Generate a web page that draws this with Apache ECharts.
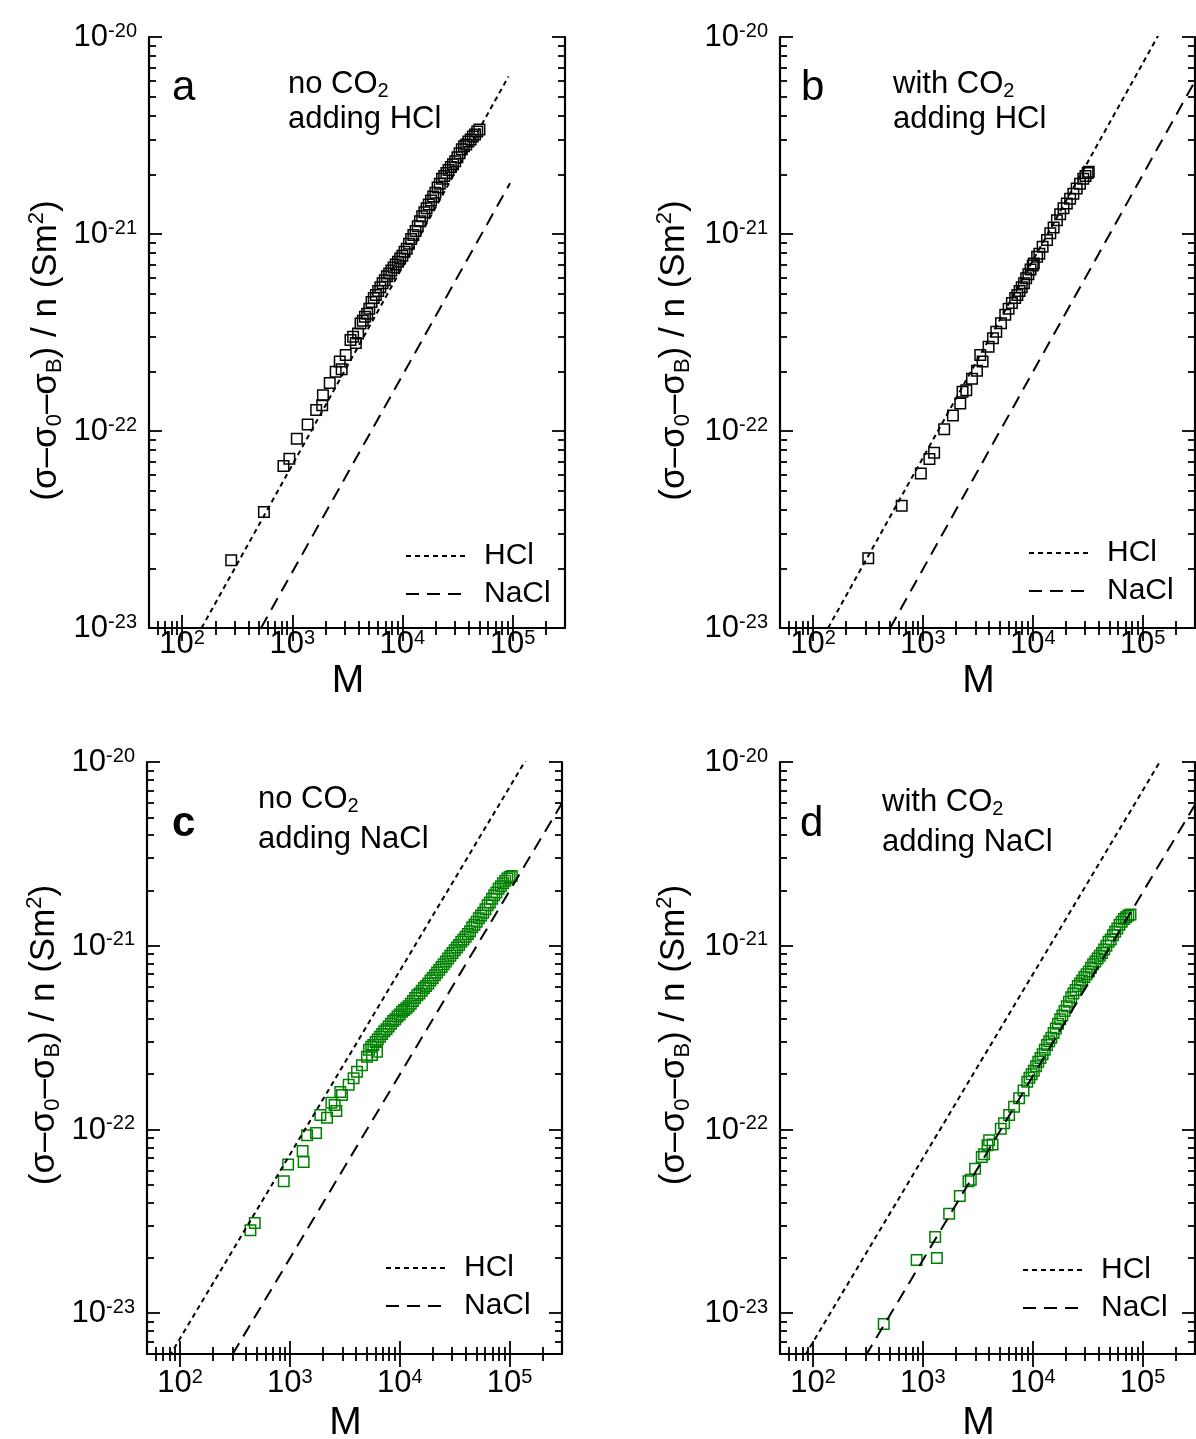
<!DOCTYPE html>
<html>
<head>
<meta charset="utf-8">
<script src="https://cdn.jsdelivr.net/npm/echarts@6/dist/echarts.min.js"></script>
<style>
  html, body { margin: 0; padding: 0; background: #ffffff; }
  #chart { width: 1196px; height: 1439px; }
</style>
</head>
<body>
<div id="chart"></div>
<script>
// Specific conductivity increment per particle vs. molar mass M, four titration runs.

// ---- tick values ----
const xMajorTicks = [100, 1000, 10000, 100000];
const xMinorTicks = [60, 70, 80, 90, 200, 300, 400, 500, 600, 700, 800, 900,
  2000, 3000, 4000, 5000, 6000, 7000, 8000, 9000,
  20000, 30000, 40000, 50000, 60000, 70000, 80000, 90000, 200000];
const yMajorTicks = [1e-23, 1e-22, 1e-21, 1e-20];
const yMinorTicks = [7e-24, 8e-24, 9e-24,
  2e-23, 3e-23, 4e-23, 5e-23, 6e-23, 7e-23, 8e-23, 9e-23,
  2e-22, 3e-22, 4e-22, 5e-22, 6e-22, 7e-22, 8e-22, 9e-22,
  2e-21, 3e-21, 4e-21, 5e-21, 6e-21, 7e-21, 8e-21, 9e-21];

// ---- measured points [M, (σ-σ0-σB)/n in S m^2] ----
const noCO2HCl = [
  [279, 2.21e-23], [553, 3.88e-23], [832, 6.64e-23], [942, 7.23e-23], [1100, 9.14e-23],
  [1380, 1.08e-22], [1650, 1.28e-22], [1870, 1.35e-22], [1900, 1.52e-22], [2190, 1.75e-22],
  [2480, 2.00e-22], [2810, 2.06e-22], [2700, 2.25e-22], [3060, 2.43e-22], [3380, 2.90e-22],
  [3780, 2.80e-22], [3570, 3.01e-22], [3960, 3.13e-22],
  [4170, 3.51e-22], [4370, 3.63e-22], [4570, 3.80e-22], [4790, 3.94e-22], [5010, 4.17e-22],
  [5250, 4.52e-22], [5500, 4.73e-22], [5750, 4.90e-22], [6030, 5.13e-22], [6310, 5.37e-22],
  [6610, 5.62e-22], [6920, 5.82e-22], [7240, 6.10e-22], [7590, 6.31e-22], [7940, 6.53e-22],
  [8320, 6.76e-22], [8710, 7.00e-22], [9120, 7.24e-22], [9550, 7.50e-22], [10000, 7.76e-22],
  [10470, 8.13e-22], [10960, 8.41e-22], [11480, 8.91e-22], [12020, 9.44e-22], [12590, 9.89e-22],
  [13180, 1.035e-21], [13800, 1.096e-21], [14450, 1.16e-21], [15140, 1.23e-21], [15850, 1.29e-21],
  [16600, 1.35e-21], [17380, 1.41e-21], [18200, 1.48e-21], [19050, 1.55e-21], [19950, 1.62e-21],
  [20890, 1.72e-21], [21880, 1.80e-21], [22910, 1.91e-21], [23990, 1.97e-21], [25120, 2.04e-21],
  [26300, 2.11e-21], [27540, 2.19e-21], [28840, 2.26e-21], [30200, 2.34e-21], [31620, 2.45e-21],
  [33110, 2.57e-21], [34670, 2.69e-21], [36310, 2.79e-21], [38020, 2.85e-21], [39810, 2.95e-21],
  [41690, 3.02e-21], [43650, 3.13e-21], [45710, 3.20e-21], [47860, 3.31e-21], [50120, 3.39e-21]
];
const withCO2HCl = [
  [318, 2.26e-23], [641, 4.18e-23], [957, 6.08e-23], [1146, 7.21e-23], [1265, 7.76e-23],
  [1562, 1.02e-22], [1875, 1.20e-22], [2188, 1.38e-22], [2296, 1.58e-22], [2483, 1.61e-22],
  [2799, 1.84e-22], [3105, 2.02e-22], [3328, 2.43e-22], [3494, 2.25e-22], [3963, 2.68e-22],
  [4345, 2.96e-22], [4656, 3.19e-22], [5140, 3.52e-22],
  [5620, 3.89e-22], [6030, 4.17e-22], [6460, 4.47e-22], [6920, 4.73e-22], [7240, 4.90e-22],
  [7590, 5.13e-22], [7940, 5.37e-22], [8320, 5.62e-22], [8710, 5.96e-22], [9120, 6.24e-22],
  [9550, 6.61e-22], [10000, 6.92e-22], [10230, 7.08e-22], [10960, 7.67e-22], [11480, 7.94e-22],
  [12300, 8.61e-22], [13490, 9.33e-22], [14450, 1.01e-21], [15490, 1.08e-21], [16600, 1.175e-21],
  [17780, 1.26e-21], [19050, 1.35e-21], [20420, 1.43e-21], [21880, 1.51e-21], [23440, 1.60e-21],
  [25120, 1.70e-21], [26920, 1.80e-21], [28840, 1.91e-21], [30200, 1.97e-21], [31620, 2.04e-21],
  [32360, 2.07e-21]
];
const noCO2NaCl = [
  [437, 2.83e-23], [479, 3.10e-23], [879, 5.22e-23], [963, 6.44e-23], [1334, 6.65e-23],
  [1306, 7.64e-23], [1432, 9.31e-23], [1730, 9.58e-23], [1893, 1.20e-22], [2178, 1.16e-22],
  [2385, 1.40e-22], [2647, 1.26e-22], [2553, 1.36e-22], [2877, 1.60e-22], [2979, 1.54e-22],
  [3428, 1.75e-22], [3802, 1.90e-22], [4083, 2.06e-22], [4529, 2.24e-22], [5035, 2.49e-22],
  [5585, 2.54e-22], [6209, 2.65e-22],
  [5250, 2.72e-22], [5500, 2.82e-22], [5750, 2.88e-22], [6030, 2.99e-22], [6310, 3.09e-22],
  [6610, 3.20e-22], [6920, 3.31e-22], [7240, 3.43e-22], [7590, 3.51e-22], [7940, 3.63e-22],
  [8320, 3.76e-22], [8710, 3.89e-22], [9120, 3.98e-22], [9550, 4.12e-22], [10000, 4.22e-22],
  [10470, 4.37e-22], [10960, 4.47e-22], [11480, 4.57e-22], [12020, 4.68e-22], [12590, 4.84e-22],
  [13180, 5.01e-22], [13800, 5.19e-22], [14450, 5.37e-22], [15140, 5.50e-22], [15850, 5.69e-22],
  [16600, 5.89e-22], [17380, 6.03e-22], [18200, 6.24e-22], [19050, 6.46e-22], [19950, 6.68e-22],
  [20890, 6.92e-22], [21880, 7.16e-22], [22910, 7.41e-22], [23990, 7.67e-22], [25120, 7.94e-22],
  [26300, 8.22e-22], [27540, 8.51e-22], [28840, 8.81e-22], [30200, 9.12e-22], [31620, 9.44e-22],
  [33110, 9.77e-22], [34670, 1.01e-21], [36310, 1.05e-21], [38020, 1.08e-21], [39810, 1.12e-21],
  [41690, 1.16e-21], [43650, 1.20e-21], [45710, 1.26e-21], [47860, 1.30e-21], [50120, 1.35e-21],
  [52480, 1.41e-21], [54950, 1.46e-21], [57540, 1.51e-21], [60260, 1.58e-21], [63100, 1.66e-21],
  [66070, 1.72e-21], [69180, 1.80e-21], [72440, 1.88e-21], [75860, 1.95e-21], [79430, 2.04e-21],
  [83180, 2.11e-21], [87100, 2.19e-21], [91200, 2.26e-21], [95500, 2.32e-21], [100000, 2.37e-21],
  [104700, 2.40e-21]
];
const withCO2NaCl = [
  [440, 8.75e-24], [877, 1.95e-23], [1340, 2.00e-23], [1294, 2.60e-23], [1734, 3.48e-23],
  [2168, 4.35e-23], [2600, 5.22e-23], [2729, 5.33e-23], [2985, 6.12e-23], [3436, 7.09e-23],
  [3606, 7.33e-23], [4009, 8.74e-23], [4305, 8.28e-23], [3873, 8.20e-23], [5117, 1.01e-22],
  [5483, 1.08e-22], [6095, 1.20e-22], [6761, 1.33e-22], [7516, 1.48e-22], [8250, 1.63e-22],
  [8910, 1.82e-22], [9330, 1.91e-22], [9770, 2.00e-22], [10230, 2.09e-22], [10720, 2.21e-22],
  [11220, 2.34e-22], [11750, 2.45e-22], [12300, 2.57e-22], [12880, 2.72e-22], [13490, 2.88e-22],
  [14130, 3.02e-22], [14790, 3.16e-22], [15490, 3.35e-22], [16220, 3.55e-22], [16980, 3.76e-22],
  [17780, 3.98e-22], [18620, 4.17e-22], [19500, 4.42e-22], [20420, 4.68e-22], [21380, 4.95e-22],
  [22390, 5.25e-22], [23440, 5.50e-22], [24550, 5.75e-22], [25700, 6.03e-22], [26920, 6.24e-22],
  [28180, 6.46e-22], [29510, 6.76e-22], [30900, 7.00e-22], [32360, 7.24e-22], [33880, 7.59e-22],
  [35480, 7.94e-22], [37150, 8.22e-22], [38900, 8.51e-22], [40740, 8.81e-22], [42660, 9.12e-22],
  [44670, 9.55e-22], [46770, 1.00e-21], [48980, 1.05e-21], [51290, 1.08e-21], [53700, 1.14e-21],
  [56230, 1.19e-21], [58880, 1.24e-21], [61660, 1.30e-21], [64570, 1.35e-21], [67610, 1.40e-21],
  [70790, 1.43e-21], [74130, 1.46e-21], [77620, 1.48e-21]
];

// ---- reference lines (end points) ----
const hclLineA = [[150, 1.0e-23], [92000, 6.3e-21]];
const naclLineA = [[520, 1.0e-23], [95000, 1.81e-21]];
const hclLineB = [[137, 1.0e-23], [150000, 1.1e-20]];
const naclLineB = [[503, 1.0e-23], [300000, 5.97e-21]];
const hclLineC = [[80, 5.84e-24], [150000, 1.095e-20]];
const naclLineC = [[300, 5.97e-24], [300000, 5.97e-21]];
const hclLineD = [[85, 5.93e-24], [150000, 1.047e-20]];
const naclLineD = [[300, 5.85e-24], [300000, 5.85e-21]];

// ---- styling ----
const FONT = "'Liberation Sans', Arial, Helvetica, sans-serif";
const BLACK = '#000000';
const GREEN = '#008000';
const HCL_DASH = [5, 4];
const NACL_DASH = [13, 8];

const powRich = {
  b: { fontSize: 31, lineHeight: 32, fontFamily: FONT, color: BLACK, verticalAlign: 'bottom' },
  s: { fontSize: 20, lineHeight: 20, fontFamily: FONT, color: BLACK, verticalAlign: 'top' }
};
function powLabel(v) {
  const e = Math.round(Math.log10(v));
  return '{b|10}{s|' + e + '}';
}

const yTitle = '(σ–σ{sub|0}–σ{sub|B}) / n (Sm{sup|2})';
const yTitleStyle = {
  fontSize: 35, lineHeight: 40, fontFamily: FONT, color: BLACK,
  rich: {
    sub: { fontSize: 22, lineHeight: 18, fontFamily: FONT, color: BLACK, verticalAlign: 'bottom' },
    sup: { fontSize: 22, lineHeight: 18, fontFamily: FONT, color: BLACK, verticalAlign: 'top' }
  }
};

const panels = [
  { grid: { left: 149, top: 37, width: 416, height: 591 }, yMin: 1e-23, points: noCO2HCl, color: BLACK,
    hcl: hclLineA, nacl: naclLineA, xLabelMargin: 0, xNameGap: 34, yNameGap: 83, yNamePad: [0, 36, 0, 0],
    legend: { left: 405, top: 541 } },
  { grid: { left: 780, top: 37, width: 415, height: 591 }, yMin: 1e-23, points: withCO2HCl, color: BLACK,
    hcl: hclLineB, nacl: naclLineB, xLabelMargin: 0, xNameGap: 34, yNameGap: 86, yNamePad: [0, 36, 0, 0],
    legend: { left: 1028, top: 538 } },
  { grid: { left: 147, top: 762, width: 415, height: 592 }, yMin: 6e-24, points: noCO2NaCl, color: GREEN,
    hcl: hclLineC, nacl: naclLineC, xLabelMargin: 13, xNameGap: 50, yNameGap: 83, yNamePad: [0, 0, 0, 46],
    legend: { left: 385, top: 1253 } },
  { grid: { left: 780, top: 762, width: 415, height: 592 }, yMin: 6e-24, points: withCO2NaCl, color: GREEN,
    hcl: hclLineD, nacl: naclLineD, xLabelMargin: 13, xNameGap: 50, yNameGap: 86, yNamePad: [0, 0, 0, 46],
    legend: { left: 1022, top: 1255 } }
];

const X_MIN = 50, X_MAX = 300000, Y_MAX = 1e-20;

const grids = [], xAxes = [], yAxes = [], series = [], legends = [];

function baseAxis(gridIndex, min, max, position) {
  return {
    type: 'log', logBase: 10, gridIndex: gridIndex, min: min, max: max, position: position,
    splitLine: { show: false }, minorTick: { show: false }, minorSplitLine: { show: false },
    axisPointer: { show: false }
  };
}
function majorTick(vals) {
  return { show: true, inside: true, length: 13, customValues: vals, lineStyle: { color: BLACK, width: 1.8 } };
}
function minorTick(vals) {
  return { show: true, inside: true, length: 7, customValues: vals, lineStyle: { color: BLACK, width: 1.8 } };
}
const frameLine = { show: true, lineStyle: { color: BLACK, width: 2.2 } };

panels.forEach(function (p, g) {
  grids.push(Object.assign({ containLabel: false, outerBoundsMode: 'none' }, p.grid));

  // bottom: major ticks, labels, title
  xAxes.push(Object.assign(baseAxis(g, X_MIN, X_MAX, 'bottom'), {
    axisLine: frameLine, axisTick: majorTick(xMajorTicks),
    axisLabel: { show: true, customValues: xMajorTicks, formatter: powLabel, rich: powRich, margin: p.xLabelMargin },
    name: 'M', nameLocation: 'middle', nameGap: p.xNameGap, nameMoveOverlap: false,
    nameTextStyle: { fontSize: 39, fontFamily: FONT, color: BLACK, padding: [0, 18, 0, 0] }
  }));
  xAxes.push(Object.assign(baseAxis(g, X_MIN, X_MAX, 'bottom'), {
    axisLine: { show: false }, axisTick: minorTick(xMinorTicks), axisLabel: { show: false }
  }));
  // top mirror
  xAxes.push(Object.assign(baseAxis(g, X_MIN, X_MAX, 'top'), {
    axisLine: frameLine, axisTick: majorTick(xMajorTicks), axisLabel: { show: false }
  }));
  xAxes.push(Object.assign(baseAxis(g, X_MIN, X_MAX, 'top'), {
    axisLine: { show: false }, axisTick: minorTick(xMinorTicks), axisLabel: { show: false }
  }));

  const yMinor = yMinorTicks.filter(function (v) { return v > p.yMin; });
  // left: major ticks, labels, title
  yAxes.push(Object.assign(baseAxis(g, p.yMin, Y_MAX, 'left'), {
    axisLine: frameLine, axisTick: majorTick(yMajorTicks),
    axisLabel: { show: true, customValues: yMajorTicks, formatter: powLabel, rich: powRich, margin: 12 },
    name: yTitle, nameLocation: 'middle', nameGap: p.yNameGap, nameRotate: 90, nameMoveOverlap: false,
    nameTextStyle: Object.assign({ padding: p.yNamePad }, yTitleStyle)
  }));
  yAxes.push(Object.assign(baseAxis(g, p.yMin, Y_MAX, 'left'), {
    axisLine: { show: false }, axisTick: minorTick(yMinor), axisLabel: { show: false }
  }));
  // right mirror
  yAxes.push(Object.assign(baseAxis(g, p.yMin, Y_MAX, 'right'), {
    axisLine: frameLine, axisTick: majorTick(yMajorTicks), axisLabel: { show: false }
  }));
  yAxes.push(Object.assign(baseAxis(g, p.yMin, Y_MAX, 'right'), {
    axisLine: { show: false }, axisTick: minorTick(yMinor), axisLabel: { show: false }
  }));

  const ax = g * 4;
  series.push({
    type: 'scatter', xAxisIndex: ax, yAxisIndex: ax, data: p.points,
    symbol: 'rect', symbolSize: 10.5, clip: true, silent: true,
    itemStyle: { color: 'rgba(0,0,0,0)', borderColor: p.color, borderWidth: 1.5, opacity: 1 }
  });
  series.push({
    type: 'line', name: 'HCl', xAxisIndex: ax, yAxisIndex: ax, data: p.hcl,
    symbol: 'none', showSymbol: false, clip: true, silent: true,
    lineStyle: { color: BLACK, width: 2, type: HCL_DASH }, itemStyle: { color: BLACK }
  });
  series.push({
    type: 'line', name: 'NaCl', xAxisIndex: ax, yAxisIndex: ax, data: p.nacl,
    symbol: 'none', showSymbol: false, clip: true, silent: true,
    lineStyle: { color: BLACK, width: 2, type: NACL_DASH }, itemStyle: { color: BLACK }
  });

  legends.push({
    orient: 'vertical', left: p.legend.left, top: p.legend.top, padding: 0,
    itemWidth: 62, itemHeight: 14, itemGap: 8, selectedMode: false,
    data: ['HCl', 'NaCl'],
    // line sample only: hide the marker drawn in the middle of the sample
    itemStyle: { color: 'rgba(0,0,0,0)', borderColor: 'rgba(0,0,0,0)', borderWidth: 0, opacity: 0 },
    lineStyle: { width: 2, color: BLACK, opacity: 1 },
    textStyle: { fontSize: 30, lineHeight: 30, fontFamily: FONT, color: BLACK, padding: [0, 0, 0, 11] }
  });
});

// panel letters and run descriptions
const subRich = { sub: { fontSize: 20, lineHeight: 19, fontFamily: FONT, fill: BLACK, verticalAlign: 'bottom' } };
function note(x, y, text) {
  return { type: 'text', x: x, y: y, silent: true,
    style: { text: text, font: '31px ' + FONT, fill: BLACK, lineHeight: 34, verticalAlign: 'middle', rich: subRich } };
}
function letter(x, y, text, weight) {
  return { type: 'text', x: x, y: y, silent: true,
    style: { text: text, font: (weight || 'normal') + ' 42px ' + FONT, fill: BLACK, verticalAlign: 'middle' } };
}
const graphics = [
  letter(172, 88, 'a'), note(288, 84, 'no CO{sub|2}'), note(288, 119, 'adding HCl'),
  letter(801, 88, 'b'), note(893, 84, 'with CO{sub|2}'), note(893, 119, 'adding HCl'),
  letter(172, 824, 'c', 'bold'), note(258, 799, 'no CO{sub|2}'), note(258, 839, 'adding NaCl'),
  letter(800, 824, 'd'), note(882, 802, 'with CO{sub|2}'), note(882, 842, 'adding NaCl')
];

const chart = echarts.init(document.getElementById('chart'), null, { renderer: 'canvas' });
chart.setOption({
  backgroundColor: '#ffffff',
  animation: false,
  textStyle: { fontFamily: FONT, color: BLACK },
  grid: grids,
  xAxis: xAxes,
  yAxis: yAxes,
  legend: legends,
  series: series,
  graphic: graphics
});
</script>
</body>
</html>
